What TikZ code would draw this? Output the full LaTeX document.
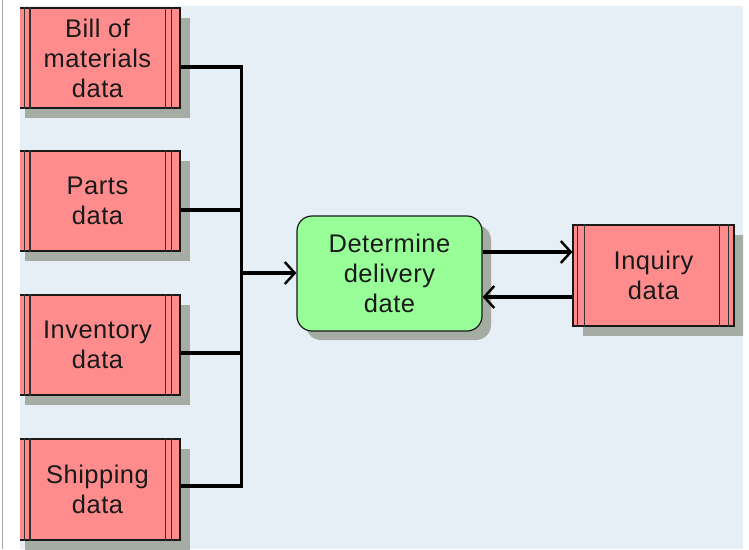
\documentclass[tikz,border=0pt]{standalone}
\usepackage{fontspec}
\setmainfont{Liberation Sans}[LetterSpace=2]
\usetikzlibrary{arrows.meta,shadows}
\definecolor{canvasbg}{RGB}{230,238,246}
\definecolor{storefill}{RGB}{255,140,140}
\definecolor{funcfill}{RGB}{152,255,152}
\definecolor{shadowgray}{RGB}{164,172,164}
\definecolor{framegray}{RGB}{165,165,165}
\begin{document}
\begin{tikzpicture}[x=1pt,y=-1pt,
  lbl/.style={font=\fontsize{25.5}{30}\selectfont, align=center, text=black!90},
  boxshadow/.style={drop shadow={shadow xshift=#1, shadow yshift=-#1, fill=shadowgray, opacity=1}},
  store/.style={rectangle, draw=black!90, line width=1.2pt, fill=storefill,
    inner sep=0pt, minimum width=165pt, minimum height=100pt, boxshadow=10pt, lbl},
  func/.style={rectangle, rounded corners=15pt, draw=black!90, line width=1.2pt, fill=funcfill,
    inner sep=0pt, minimum width=185pt, minimum height=115pt, boxshadow=9pt, lbl},
  rule/.style={line width=1.2pt, black!80},
  conn/.style={line width=3.4pt, line join=miter, black},
  flow/.style={conn, -{Straight Barb[length=10pt, width=22pt, line width=2.4pt]}}]

% page and canvas
\fill[white] (0,0) rectangle (749,549);
\useasboundingbox (0,0) rectangle (749,549);
\draw[framegray, line width=1.5pt] (2.5,0) -- (2.5,549);
\fill[canvasbg] (20,6) rectangle (743,549);

\begin{scope}
\clip (20,6) rectangle (743,549);

% data stores on the left
\node[store] (bom)   at (97.5,58)    {Bill of\\materials\\data};
\node[store] (parts) at (97.5,201)   {Parts\\data};
\node[store] (inv)   at (97.5,345)   {Inventory\\data};
\node[store, minimum height=101pt] (ship) at (97.5,489.5) {Shipping\\data};

% function
\node[func] (det) at (389.5,273.5) {Determine\\delivery\\date};

% data store on the right
\node[store, minimum width=161pt, minimum height=101pt] (inq) at (653.5,275.5) {Inquiry\\data};

% double side rules of the stores
\foreach \s in {bom,parts,inv,ship}{
  \draw[rule] ([xshift=10pt]\s.north west) -- ([xshift=10pt]\s.south west);
  \draw[rule] ([xshift=15.5pt]\s.north west) -- ([xshift=15.5pt]\s.south west);
  \draw[rule] ([xshift=-15pt]\s.north east) -- ([xshift=-15pt]\s.south east);
  \draw[rule] ([xshift=-9.5pt]\s.north east) -- ([xshift=-9.5pt]\s.south east);
}
\draw[rule] ([xshift=5pt]inq.north west) -- ([xshift=5pt]inq.south west);
\draw[rule] ([xshift=12pt]inq.north west) -- ([xshift=12pt]inq.south west);
\draw[rule] ([xshift=-15pt]inq.north east) -- ([xshift=-15pt]inq.south east);
\draw[rule] ([xshift=-6pt]inq.north east) -- ([xshift=-6pt]inq.south east);

% junction points of the input bus
\coordinate (j1) at (241.5,67);
\coordinate (j2) at (241.5,210);
\coordinate (j3) at (241.5,353);
\coordinate (j4) at (241.5,486);
\coordinate (jm) at (241.5,273);
\coordinate (r1) at (0,252);
\coordinate (r2) at (0,297);

% inputs collected on the bus
\draw[conn] (bom.east |- j1) -- (j1) -- (j4) -- (ship.east |- j4);
\draw[conn] (parts.east |- j2) -- (j2);
\draw[conn] (inv.east |- j3) -- (j3);
\draw[flow] (jm) -- (det.west |- jm);

% exchange with the inquiry data
\draw[flow] (det.east |- r1) -- (inq.west |- r1);
\draw[flow] (inq.west |- r2) -- (det.east |- r2);
\end{scope}
\end{tikzpicture}
\end{document}
